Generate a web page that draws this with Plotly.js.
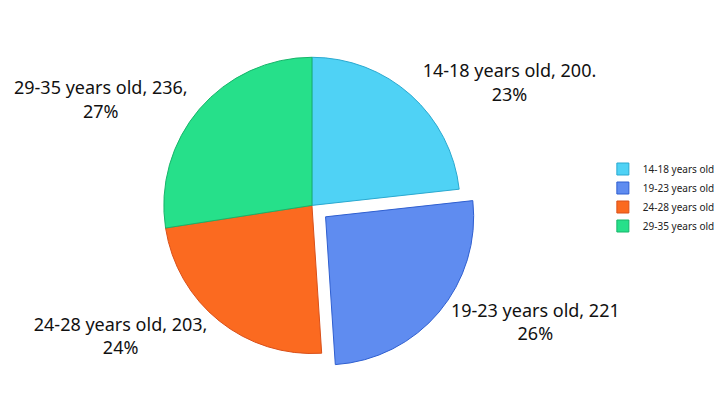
<!DOCTYPE html>
<html>
<head>
<meta charset="utf-8">
<script src="https://cdn.plot.ly/plotly-3.0.1.min.js"></script>
<style>html,body{margin:0;padding:0;background:#fff;}#chart{width:720px;height:395px;}</style>
</head>
<body>
<div id="chart"></div>
<script>
const categories = ["14-18 years old", "19-23 years old", "24-28 years old", "29-35 years old"];
const values = [200, 221, 203, 236];
const colors = ["#4fd2f5", "#5f8cf0", "#fb6a20", "#26e08a"];
const lineColors = ["#2aa9d0", "#2f5fd0", "#d9501a", "#17b56a"];
const templates = [
  "%{label}, %{value}.<br>%{percent:.0%}",
  "%{label}, %{value}<br>%{percent:.0%}",
  "%{label}, %{value},<br>%{percent:.0%}",
  "%{label}, %{value},<br>%{percent:.0%}"
];

const trace = {
  type: "pie",
  labels: categories,
  values: values,
  sort: false,
  direction: "clockwise",
  rotation: 0,
  pull: [0, 0.12, 0, 0],
  marker: { colors: colors, line: { color: lineColors, width: 1 } },
  texttemplate: templates,
  textposition: "outside",
  textfont: { family: "Noto Sans, sans-serif", size: 18, color: "#111" },
  outsidetextfont: { family: "Noto Sans, sans-serif", size: 18, color: "#111" },
  automargin: false,
  domain: { x: [0.12, 0.77], y: [0.06, 0.9] },
  hoverinfo: "label+value+percent"
};

const layout = {
  width: 720, height: 395,
  margin: { l: 0, r: 0, t: 0, b: 0 },
  paper_bgcolor: "#fff",
  showlegend: true,
  legend: {
    x: 0.86, y: 0.5, xanchor: "left", yanchor: "middle",
    font: { family: "Noto Sans, sans-serif", size: 10, color: "#222" },
    itemwidth: 30
  }
};

Plotly.newPlot("chart", [trace], layout, { displayModeBar: false, staticPlot: true });
</script>
</body>
</html>
